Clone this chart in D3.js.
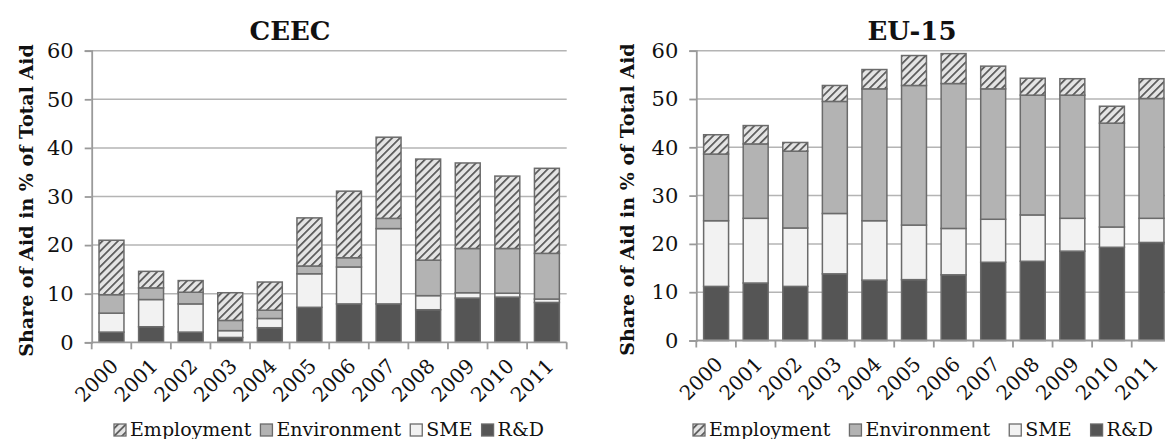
<!DOCTYPE html>
<html>
<head>
<meta charset="utf-8">
<script src="https://cdn.jsdelivr.net/npm/d3@7"></script>
<style>
  html, body { margin: 0; padding: 0; background: #fff; overflow: hidden; }
  svg { display: block; }
  text { font-family: "DejaVu Serif", "Liberation Serif", serif; fill: #111; }
</style>
</head>
<body>
<svg id="chart" width="1165" height="439"></svg>
<script>
// Years on the category axis
const years = ["2000","2001","2002","2003","2004","2005","2006","2007","2008","2009","2010","2011"];

// Stack order, bottom to top
const seriesNames = ["R&D", "SME", "Environment", "Employment"];
// Legend order
const legendNames = ["Employment", "Environment", "SME", "R&D"];

// CEEC: share of aid in % of total aid
const ceecRD          = [2.1, 3.2, 2.1, 1.0, 3.0, 7.2, 7.9, 7.9, 6.7, 9.1, 9.3, 8.2];
const ceecSME         = [3.9, 5.6, 5.8, 1.4, 1.9, 6.9, 7.6, 15.5, 2.9, 1.1, 0.8, 0.7];
const ceecEnvironment = [3.8, 2.4, 2.4, 2.1, 1.7, 1.6, 1.9, 2.1, 7.3, 9.1, 9.2, 9.4];
const ceecEmployment  = [11.2, 3.4, 2.4, 5.7, 5.8, 9.9, 13.7, 16.7, 20.8, 17.6, 14.9, 17.5];

// EU-15: share of aid in % of total aid
const euRD          = [11.2, 11.9, 11.2, 13.8, 12.5, 12.6, 13.6, 16.2, 16.4, 18.5, 19.3, 20.3];
const euSME         = [13.6, 13.4, 12.1, 12.5, 12.3, 11.3, 9.6, 8.9, 9.6, 6.8, 4.2, 5.0];
const euEnvironment = [13.8, 15.4, 15.9, 23.2, 27.3, 28.9, 30.0, 27.0, 24.8, 25.5, 21.5, 24.8];
const euEmployment  = [4.0, 3.8, 1.8, 3.3, 4.0, 6.2, 6.2, 4.7, 3.5, 3.4, 3.5, 4.1];

const yTicks = [0, 10, 20, 30, 40, 50, 60];

const svg = d3.select("#chart");
const defs = svg.append("defs");

// Diagonal hatch used for Employment
const hatch = defs.append("pattern")
  .attr("id", "hatch")
  .attr("patternUnits", "userSpaceOnUse")
  .attr("width", 5.5).attr("height", 5.5)
  .attr("patternTransform", "rotate(45)");
hatch.append("rect").attr("width", 5.5).attr("height", 5.5).attr("fill", "#e4e4e4");
hatch.append("line").attr("x1", 0.5).attr("y1", 0).attr("x2", 0.5).attr("y2", 5.5)
  .attr("stroke", "#555555").attr("stroke-width", 2.4);

const fills = {
  "R&D": "#555555",
  "SME": "#f2f2f2",
  "Environment": "#b3b3b3",
  "Employment": "url(#hatch)"
};

function buildRows(rd, sme, env, emp) {
  return years.map((y, i) => ({
    year: y, "R&D": rd[i], "SME": sme[i], "Environment": env[i], "Employment": emp[i]
  }));
}

function drawPanel(opt) {
  const g = svg.append("g");
  const x = d3.scaleBand().domain(years)
    .range([opt.left, opt.right]).paddingInner(0.37).paddingOuter(0.185);
  const y = d3.scaleLinear().domain([0, 60]).range([opt.bottom, opt.top]);

  // gridlines
  g.append("g").selectAll("line").data(yTicks.filter(d => d > 0)).join("line")
    .attr("x1", opt.left).attr("x2", opt.right)
    .attr("y1", d => y(d)).attr("y2", d => y(d))
    .attr("stroke", "#b4b4b4").attr("stroke-width", 1.5);

  // stacked bars
  const rows = buildRows(...opt.data);
  const stacked = d3.stack().keys(seriesNames)(rows);
  g.append("g").selectAll("g").data(stacked).join("g")
    .attr("fill", d => fills[d.key])
    .selectAll("rect").data(d => d).join("rect")
      .attr("x", d => x(d.data.year))
      .attr("width", x.bandwidth())
      .attr("y", d => y(d[1]))
      .attr("height", d => y(d[0]) - y(d[1]))
      .attr("stroke", "#6b6b6b").attr("stroke-width", 1.5);

  // y axis
  const yAxis = g.append("g").attr("transform", `translate(${opt.left},0)`)
    .call(d3.axisLeft(y).tickValues(yTicks).tickSize(7).tickPadding(11));
  yAxis.select(".domain").attr("stroke", "#9a9a9a").attr("stroke-width", 1.8);
  yAxis.selectAll(".tick line").attr("stroke", "#9a9a9a").attr("stroke-width", 1.8);
  yAxis.selectAll(".tick text").attr("font-size", 21).attr("fill", "#111")
    .attr("font-family", "DejaVu Serif");

  // x axis: tick marks at category boundaries
  const bounds = d3.range(years.length + 1).map(i => opt.left + i * x.step());
  const xg = g.append("g");
  xg.append("line").attr("x1", opt.left).attr("x2", opt.right)
    .attr("y1", opt.bottom).attr("y2", opt.bottom)
    .attr("stroke", "#9a9a9a").attr("stroke-width", 1.8);
  xg.selectAll("line.tk").data(bounds).join("line").attr("class", "tk")
    .attr("x1", d => d).attr("x2", d => d)
    .attr("y1", opt.bottom).attr("y2", opt.bottom + 7)
    .attr("stroke", "#9a9a9a").attr("stroke-width", 1.8);
  xg.selectAll("text").data(years).join("text")
    .attr("transform", d => `translate(${x(d) + x.bandwidth() / 2 + 8},${opt.bottom + 25}) rotate(-45)`)
    .attr("text-anchor", "end")
    .attr("font-size", 20)
    .text(d => d);

  // title
  g.append("text").attr("x", opt.titleX).attr("y", 40)
    .attr("text-anchor", "middle").attr("font-size", 26).attr("font-weight", "bold")
    .text(opt.title);

  // y axis title
  g.append("text")
    .attr("transform", `translate(${opt.labelX},${(opt.top + opt.bottom) / 2 + 4}) rotate(-90)`)
    .attr("text-anchor", "middle").attr("font-size", 19).attr("font-weight", "bold")
    .text("Share of Aid in % of Total Aid");

  // legend
  const lg = g.append("g").attr("transform", `translate(${opt.legendX},436)`);
  let cx = 0;
  legendNames.forEach(name => {
    lg.append("rect").attr("x", cx + 1).attr("y", -12).attr("width", 12).attr("height", 12)
      .attr("fill", fills[name]).attr("stroke", "#6b6b6b").attr("stroke-width", 1.3);
    const t = lg.append("text").attr("x", cx + 17).attr("y", 0).attr("font-size", 19).text(name);
    cx += 17 + t.node().getComputedTextLength() + opt.legendGap;
  });
}

drawPanel({
  title: "CEEC", titleX: 290, labelX: 33,
  left: 91.7, right: 566.7, top: 50.7, bottom: 342.3,
  legendX: 113, legendGap: 8,
  data: [ceecRD, ceecSME, ceecEnvironment, ceecEmployment]
});

drawPanel({
  title: "EU-15", titleX: 912, labelX: 634,
  left: 696.3, right: 1171.3, top: 50.7, bottom: 340.5,
  legendX: 692, legendGap: 18,
  data: [euRD, euSME, euEnvironment, euEmployment]
});
</script>
</body>
</html>
